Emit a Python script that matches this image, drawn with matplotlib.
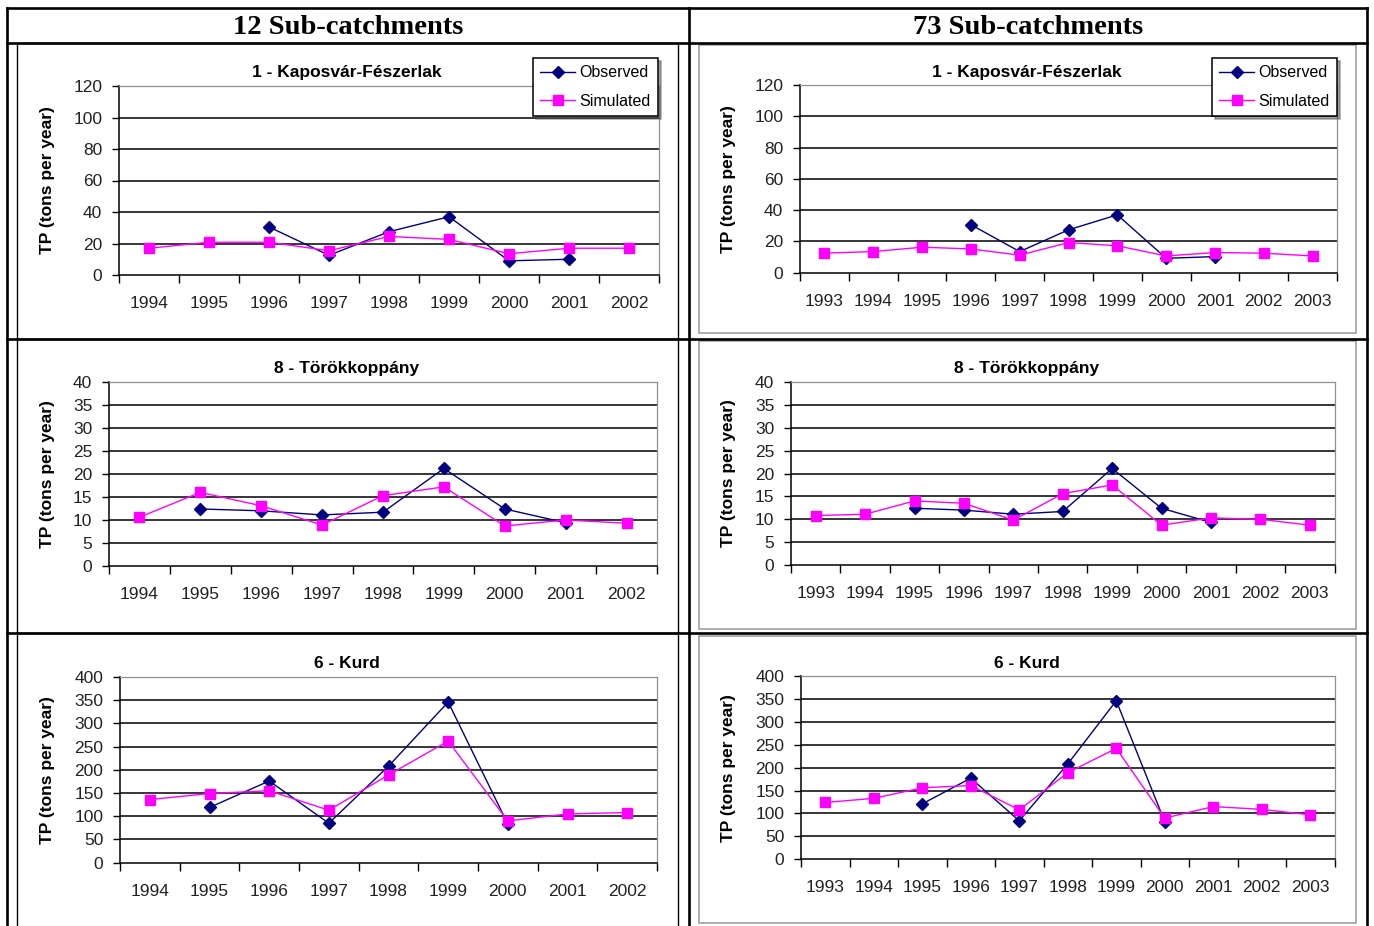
import numpy as np
import matplotlib
matplotlib.use('Agg')
import matplotlib.pyplot as plt
from matplotlib.lines import Line2D
from matplotlib.patches import Rectangle

plt.rcParams['font.family'] = ['Liberation Sans', 'DejaVu Sans']

nan = np.nan

# data
years_12 = ['1994', '1995', '1996', '1997', '1998', '1999', '2000', '2001', '2002']
years_73 = ['1993', '1994', '1995', '1996', '1997', '1998', '1999', '2000', '2001', '2002', '2003']

kap_obs_12 = [nan, nan, 30.5, 12.5, 27.5, 37, 9, 10, nan]
kap_sim_12 = [17, 20.8, 20.8, 15.4, 24.5, 22.6, 13.5, 17, 17]
kap_obs_73 = [nan, nan, nan, 30.7, 13.5, 27.4, 37, 9.2, 10.3, nan, nan]
kap_sim_73 = [12.5, 13.5, 16.3, 15.2, 11.2, 19.3, 17.2, 10.7, 12.9, 12.5, 10.7]

tor_obs_12 = [nan, 12.4, 12, 11.1, 11.7, 21.2, 12.4, 9.4, nan]
tor_sim_12 = [10.6, 16, 13.1, 8.9, 15.3, 17.2, 8.7, 10, 9.3]
tor_obs_73 = [nan, nan, 12.4, 12, 11.1, 11.7, 21.1, 12.4, 9.3, nan, nan]
tor_sim_73 = [10.8, 11.1, 14, 13.5, 9.8, 15.6, 17.5, 8.7, 10.3, 10, 8.7]

kurd_obs_12 = [nan, 119, 176, 85, 208, 346, 83, nan, nan]
kurd_sim_12 = [136, 149, 155, 113, 189, 262, 90, 105, 108]
kurd_obs_73 = [nan, nan, 121, 177, 84, 208, 346, 82, nan, nan, nan]
kurd_sim_73 = [124, 133, 156, 161, 108, 189, 242, 90, 115, 109, 97]

titles = ['1 - Kaposvár-Fészerlak', '8 - Törökkoppány', '6 - Kurd']
col_titles = ['12 Sub-catchments', '73 Sub-catchments']
ymaxes = [120, 40, 400]
ysteps = [20, 5, 50]

W, H = 1374, 926
fig = plt.figure(figsize=(W / 100, H / 100), dpi=100, facecolor='white')


def fx(x):
    return x / W


def fy(y):
    return 1 - y / H


def rect(x0, y0, x1, y1):
    return [fx(x0), fy(y1), (x1 - x0) / W, (y1 - y0) / H]


# table grid
lw_tab = 1.9
for (xa, ya, xb, yb) in [(7, 8, 1367, 8), (7, 43, 1367, 43), (7, 339, 1367, 339),
                         (7, 633, 1367, 633), (7, 8, 7, 926), (689, 8, 689, 926),
                         (1367, 8, 1367, 926)]:
    fig.add_artist(Line2D([fx(xa), fx(xb)], [fy(ya), fy(yb)], color='black', lw=lw_tab))

# chart frames
for (y0, y1) in [(43, 339), (339, 633), (633, 930)]:
    fig.add_artist(Rectangle((fx(17), fy(y1)), (678 - 17) / W, (y1 - y0) / H,
                             fill=False, ec='black', lw=1.0, transform=fig.transFigure))
for (y0, y1) in [(45, 333), (341, 629), (636, 923)]:
    fig.add_artist(Rectangle((fx(699), fy(y1)), (1356 - 699) / W, (y1 - y0) / H,
                             fill=False, ec='#a0a0a0', lw=1.2, transform=fig.transFigure))

fig.text(fx(348), fy(28), col_titles[0], ha='center', va='center', fontsize=20.5,
         fontweight='bold', family='Liberation Serif')
fig.text(fx(1028), fy(28), col_titles[1], ha='center', va='center', fontsize=20.5,
         fontweight='bold', family='Liberation Serif')

panels = [
    # (plot rect px, title y, title x, ylabel x, years, obs, sim, row, legend corner)
    ((119, 86, 659, 275), 73, 347, 55, years_12, kap_obs_12, kap_sim_12, 0, (533, 58)),
    ((800, 85, 1337, 272.7), 73, 1027, 736, years_73, kap_obs_73, kap_sim_73, 0, (1212, 58)),
    ((109, 382, 657, 566), 369, 347, 55, years_12, tor_obs_12, tor_sim_12, 1, None),
    ((791, 382, 1334.5, 565), 369, 1027, 736, years_73, tor_obs_73, tor_sim_73, 1, None),
    ((120, 677, 657, 862.7), 664, 347, 55, years_12, kurd_obs_12, kurd_sim_12, 2, None),
    ((801, 676, 1334.5, 859.3), 664, 1027, 736, years_73, kurd_obs_73, kurd_sim_73, 2, None),
]

for (pr, ty, tx, ylx, yrs, obs, sim, row, leg) in panels:
    ax = fig.add_axes(rect(*pr))
    n = len(yrs)
    x = np.arange(n)
    ymax = ymaxes[row]
    step = ysteps[row]
    yt = np.arange(0, ymax + step, step)
    ax.set_xlim(-0.5, n - 0.5)
    ax.set_ylim(0, ymax)
    ax.hlines(yt[1:-1], -0.5, n - 0.5, colors='black', lw=1.1, zorder=1)
    ax.plot(x, obs, color='#000080', lw=1.0, marker='D', ms=6, mec='#000080',
            mfc='#000080', label='Observed', zorder=3)
    ax.plot(x, sim, color='#ff00ff', lw=1.0, marker='s', ms=6.5, mec='#ff00ff',
            mfc='#ff00ff', label='Simulated', zorder=3)

    ax.set_yticks(yt)
    ax.set_yticklabels([str(v) for v in yt])
    ax.set_xticks(np.arange(n + 1) - 0.5)
    ax.set_xticklabels([])
    ax.set_xticks(x, minor=True)
    ax.set_xticklabels(yrs, minor=True)
    ax.tick_params(axis='x', which='major', direction='out', length=6, width=1, color='black')
    ax.tick_params(axis='x', which='minor', length=0, pad=15, labelsize=12.5, labelcolor='#222222')
    ax.tick_params(axis='y', direction='out', length=5, width=1, color='black',
                   pad=7, labelsize=12.5, labelcolor='#222222')
    for s in ['left', 'bottom']:
        ax.spines[s].set_color('black')
        ax.spines[s].set_linewidth(1.1)
    for s in ['top', 'right']:
        ax.spines[s].set_color('#909090')
        ax.spines[s].set_linewidth(0.9)

    ax.set_ylabel('TP (tons per year)', fontsize=12.5, fontweight='bold')
    ax.yaxis.set_label_coords((ylx - pr[0]) / (pr[2] - pr[0]), 0.5)
    fig.text(fx(tx), fy(ty), titles[row], ha='center', va='center',
             fontsize=12.5, fontweight='bold')

    if leg is not None:
        lg = ax.legend(loc='upper left', bbox_to_anchor=(fx(leg[0]), fy(leg[1])),
                       bbox_transform=fig.transFigure, borderaxespad=0, frameon=True,
                       fancybox=False, shadow=True, edgecolor='black', framealpha=1,
                       fontsize=11.5, handlelength=2.2, handletextpad=0.25,
                       labelspacing=0.85, borderpad=0.45)
        lg.get_frame().set_linewidth(1.1)

fig.savefig('out.png', dpi=100, facecolor='white')
